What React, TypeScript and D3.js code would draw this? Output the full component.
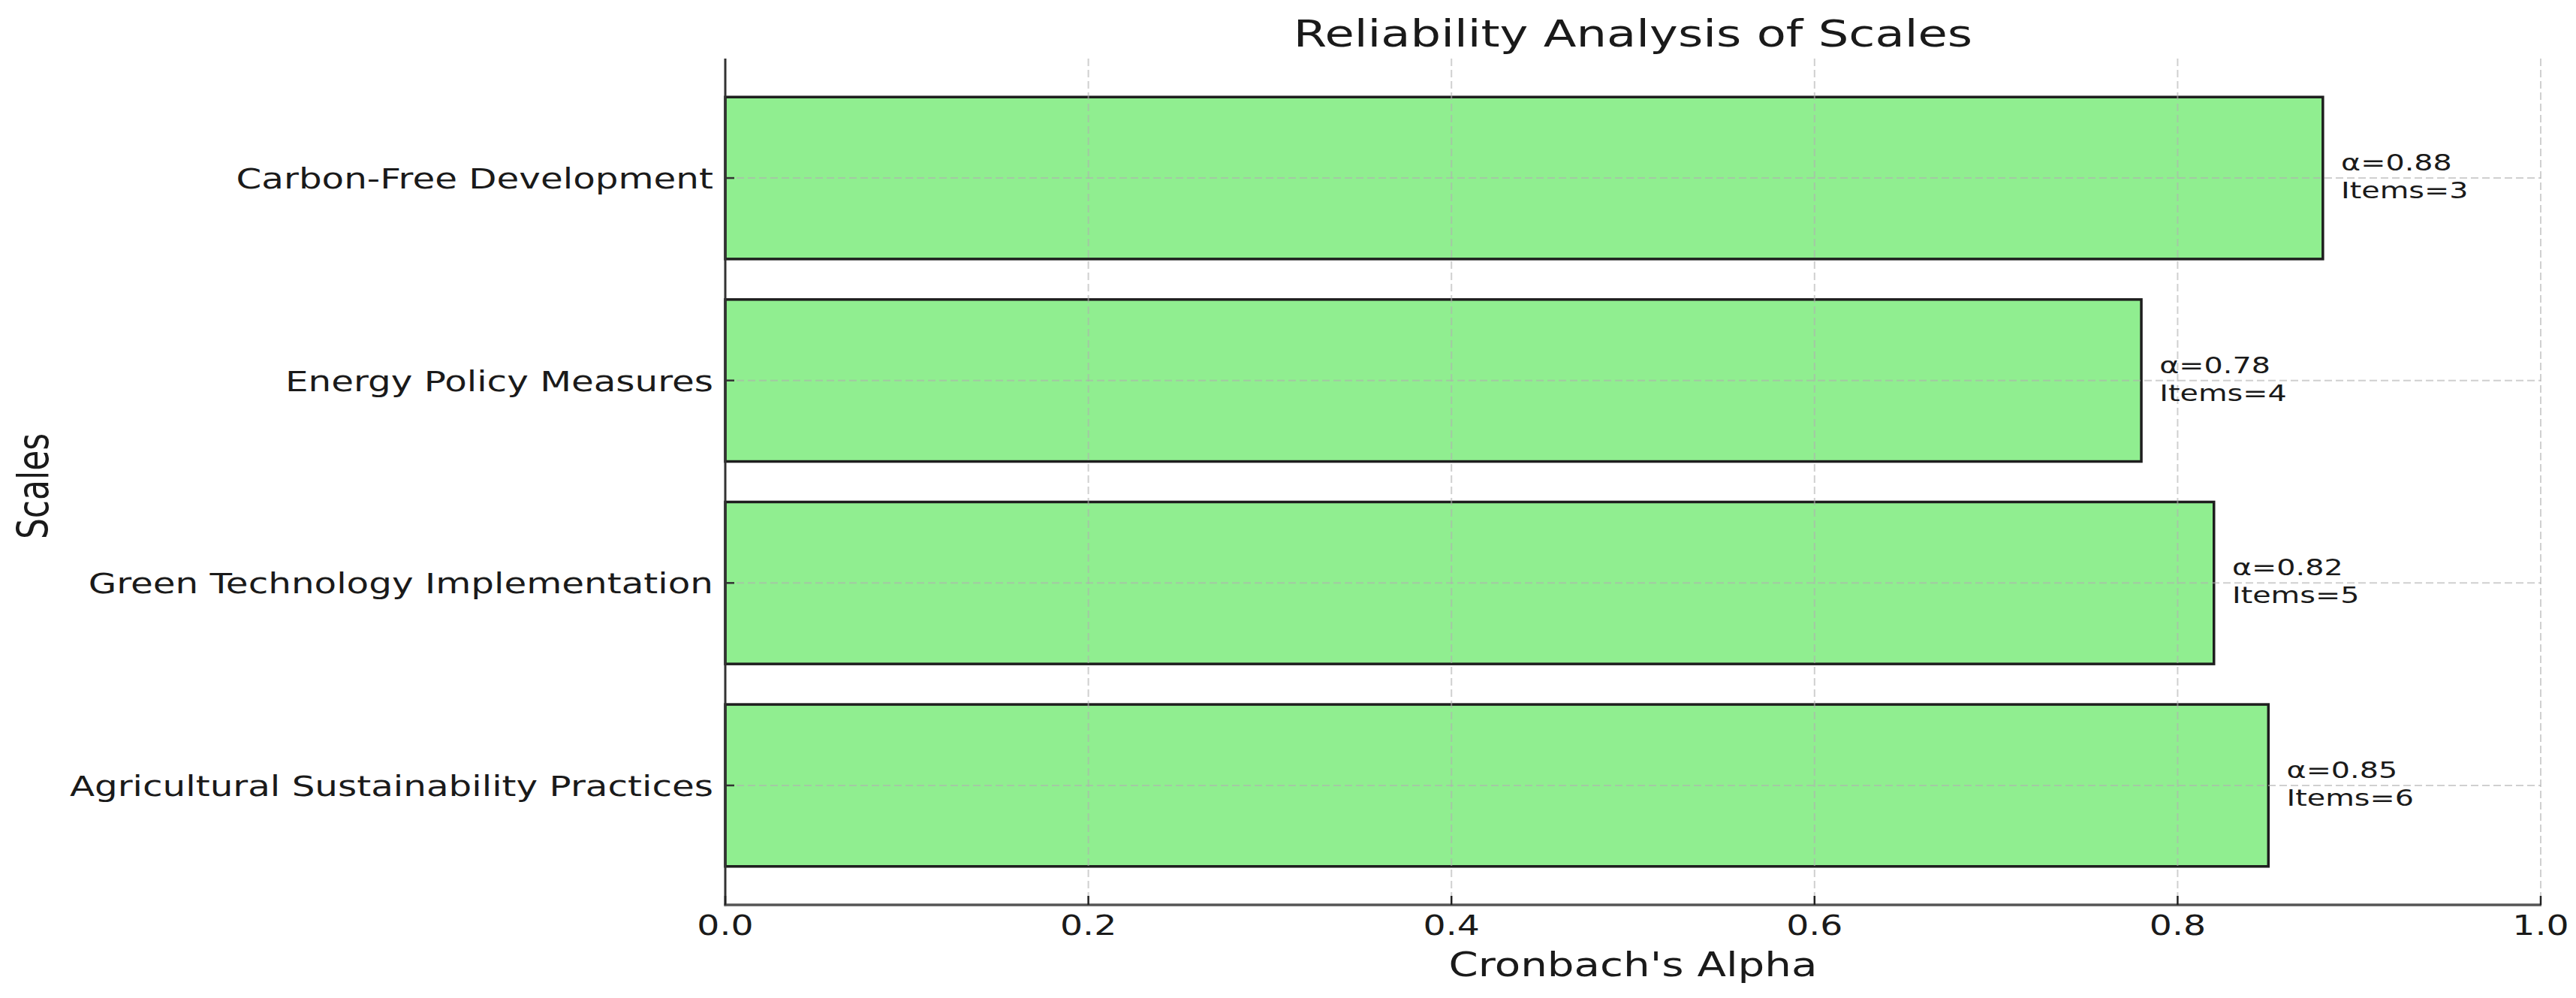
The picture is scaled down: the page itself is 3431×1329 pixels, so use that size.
import React from "react";
import * as d3 from "d3";

const categories = [
  "Agricultural Sustainability Practices",
  "Green Technology Implementation",
  "Energy Policy Measures",
  "Carbon-Free Development",
];
const alphaValues = [0.85, 0.82, 0.78, 0.88];
const itemCounts = [6, 5, 4, 3];
const xTicks = [0.0, 0.2, 0.4, 0.6, 0.8, 1.0];

const W = 3431;
const H = 1329;
const SX = 1.28; // horizontal text stretch seen in the reference
const FONT = "'DejaVu Sans', sans-serif";
const TEXT = "#1a1a1a";

export default function App() {
  const left = 966;
  const right = 3384;
  const top = 78;
  const bottom = 1205;

  const x = d3.scaleLinear().domain([0, 1]).range([left, right]);
  const barH = 0.8;
  const y = d3
    .scaleLinear()
    .domain([-0.59, categories.length - 1 + 0.59])
    .range([bottom, top]);
  const bandPx = Math.abs(y(0) - y(barH));

  const txt = (
    key: string,
    tx: number,
    ty: number,
    content: string,
    size: number,
    anchor: "start" | "middle" | "end",
    rotate = false
  ) => (
    <text
      key={key}
      transform={`translate(${tx},${ty}) scale(${SX},1)${rotate ? " rotate(-90)" : ""}`}
      fontSize={size}
      fontFamily={FONT}
      fill={TEXT}
      textAnchor={anchor}
    >
      {content}
    </text>
  );

  return (
    <svg
      width={W}
      height={H}
      style={{ position: "absolute", left: 0, top: 0, background: "#fff" }}
    >
      <rect x={0} y={0} width={W} height={H} fill="#fff" />

      {/* bars */}
      {categories.map((c, i) => (
        <rect
          key={"bar" + i}
          x={x(0)}
          y={y(i + barH / 2)}
          width={x(alphaValues[i]) - x(0)}
          height={bandPx}
          fill="#90EE90"
          stroke="#1e1e1e"
          strokeWidth={3.5}
        />
      ))}

      {/* grid (drawn above bars) */}
      {xTicks.slice(1).map((t, i) => (
        <line
          key={"gx" + i}
          x1={x(t)}
          x2={x(t)}
          y1={top}
          y2={bottom}
          stroke="#b0b0b0"
          strokeOpacity={0.6}
          strokeWidth={2}
          strokeDasharray="10,5"
        />
      ))}
      {categories.map((c, i) => (
        <line
          key={"gy" + i}
          x1={left}
          x2={right}
          y1={y(i)}
          y2={y(i)}
          stroke="#b0b0b0"
          strokeOpacity={0.6}
          strokeWidth={2}
          strokeDasharray="10,5"
        />
      ))}

      {/* spines */}
      <line x1={left} x2={left} y1={top} y2={bottom + 1.5} stroke="#333" strokeWidth={3} />
      <line x1={left - 1.5} x2={right + 1} y1={bottom} y2={bottom} stroke="#555" strokeWidth={3.5} />

      {/* x ticks (inward) and labels */}
      {xTicks.map((t, i) => (
        <g key={"xt" + i}>
          <line x1={x(t)} x2={x(t)} y1={bottom} y2={bottom - 12} stroke="#222" strokeWidth={2.5} />
          {txt("xl" + i, x(t), 1245, d3.format(".1f")(t), 37, "middle")}
        </g>
      ))}

      {/* y ticks (inward) and labels */}
      {categories.map((c, i) => (
        <g key={"yt" + i}>
          <line x1={left} x2={left + 12} y1={y(i)} y2={y(i)} stroke="#333" strokeWidth={2.5} />
          {txt("yl" + i, 950, y(i) + 14, c, 37.8, "end")}
        </g>
      ))}

      {/* annotations */}
      {categories.map((c, i) => (
        <g key={"an" + i}>
          {txt("a1" + i, x(alphaValues[i] + 0.01), y(i) - 10, `α=${alphaValues[i].toFixed(2)}`, 31, "start")}
          {txt("a2" + i, x(alphaValues[i] + 0.01), y(i) + 27, `Items=${itemCounts[i]}`, 31, "start")}
        </g>
      ))}

      {/* titles */}
      {txt("title", (left + right) / 2, 62, "Reliability Analysis of Scales", 50, "middle")}
      {txt("xlabel", (left + right) / 2, 1300, "Cronbach's Alpha", 44, "middle")}
      {txt("ylabel", 64, (top + bottom) / 2 + 6, "Scales", 44, "middle", true)}
    </svg>
  );
}
